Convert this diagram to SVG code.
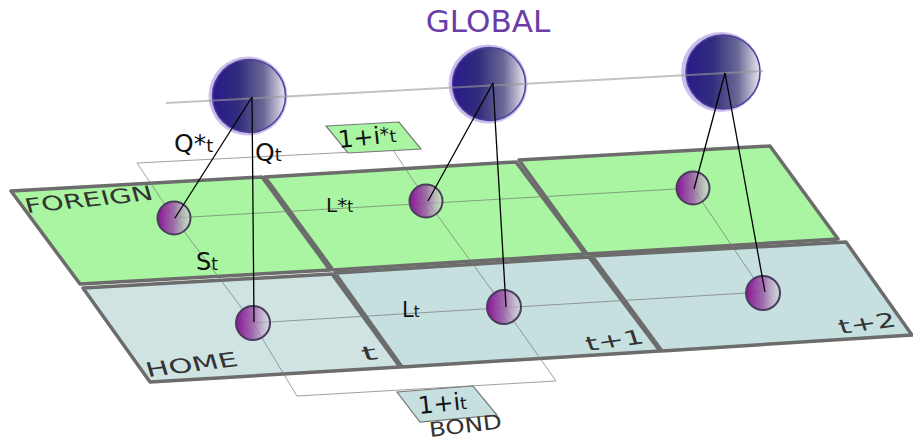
<svg xmlns="http://www.w3.org/2000/svg" width="913" height="443" viewBox="0 0 913 443">
<style>
.fp{fill:#a9f5a1;stroke:#6c6c6c;stroke-width:3.5;stroke-linejoin:round}
.hp{fill:#c6dfdf;stroke:#6c6c6c;stroke-width:3.5;stroke-linejoin:round}
.grid{fill:none;stroke:#777;stroke-width:1;stroke-opacity:0.7}
.conn{stroke:#000;stroke-width:1.3;fill:none}
.sph{fill:url(#gs);stroke:#4e3e9e;stroke-width:1.5}
.halo{fill:#8a70d0;opacity:0.45}
.ball{fill:url(#gb);stroke:#4a3c5c;stroke-width:2}
.lbl{font-family:"DejaVu Sans",sans-serif;fill:#111}
.pl{font-family:"DejaVu Sans",sans-serif;fill:#333;font-size:20px}
.tag{stroke:#777;stroke-width:1.2}
</style>
<defs>
<linearGradient id="gs" x1="0" y1="0" x2="1" y2="0">
<stop offset="0" stop-color="#2a1a8c"/>
<stop offset="0.35" stop-color="#302c7c"/>
<stop offset="0.7" stop-color="#6a6896"/>
<stop offset="1" stop-color="#e9e8f1"/>
</linearGradient>
<linearGradient id="gb" x1="0" y1="0" x2="1" y2="0">
<stop offset="0" stop-color="#8a1496"/>
<stop offset="0.5" stop-color="#9a58a6" stop-opacity="0.85"/>
<stop offset="1" stop-color="#d6d6d6" stop-opacity="0.55"/>
</linearGradient>
</defs>

<text x="488" y="32" text-anchor="middle" font-family="DejaVu Sans, sans-serif" font-size="31" fill="#6a3ea6">GLOBAL</text>

<g id="foreign-t"><polygon class="fp" points="11,191 262,177 330,270 80,284"/></g>
<g id="foreign-t1"><polygon class="fp" points="265,177 516,162 585,254 333,270"/></g>
<g id="foreign-t2"><polygon class="fp" points="519,160 770,146 838,239 587,254"/></g>
<g id="home-t"><polygon class="hp" points="83,288 332,274 400,367 150,382" style="fill:#cfe3e3"/></g>
<g id="home-t1"><polygon class="hp" points="335,273 589,257 660,351 402,367"/></g>
<g id="home-t2"><polygon class="hp" points="592,256 846,242 912,335 662,351"/></g>

<g id="grid">
<polyline class="grid" points="137,163 393,150"/>
<polyline class="grid" points="137,163 174,218 253,323 297,396 556,381 504,307 427,201 393,150"/>
<polyline class="grid" points="693,188 763,292"/>
<polyline class="grid" points="174,218 693,188"/>
<polyline class="grid" points="253,323 763,292"/>
</g>

<g id="global-t"><circle class="halo" cx="248" cy="96" r="39.5"/><circle class="sph" cx="249" cy="96" r="36.5"/></g>
<g id="global-t1"><circle class="halo" cx="488" cy="84" r="39.5"/><circle class="sph" cx="489" cy="84" r="36.5"/></g>
<g id="global-t2"><circle class="halo" cx="721" cy="72" r="40"/><circle class="sph" cx="723" cy="72" r="37"/></g>
<line x1="166" y1="103" x2="763" y2="71" stroke="#999" stroke-width="2" stroke-opacity="0.6"/>

<g id="foreign-ball-t"><circle class="ball" cx="174" cy="218" r="16.5"/></g>
<g id="foreign-ball-t1"><circle class="ball" cx="426" cy="201" r="16.5"/></g>
<g id="foreign-ball-t2"><circle class="ball" cx="693" cy="188" r="16.5"/></g>
<g id="home-ball-t"><circle class="ball" cx="253" cy="323" r="17"/></g>
<g id="home-ball-t1"><circle class="ball" cx="504" cy="307" r="17"/></g>
<g id="home-ball-t2"><circle class="ball" cx="763" cy="293" r="17"/></g>

<g id="connectors">
<line class="conn" x1="252" y1="97" x2="175" y2="218"/>
<line class="conn" x1="252" y1="97" x2="254" y2="322"/>
<line class="conn" x1="493" y1="83" x2="428" y2="201"/>
<line class="conn" x1="493" y1="83" x2="506" y2="307"/>
<line class="conn" x1="725" y1="73" x2="694" y2="189"/>
<line class="conn" x1="725" y1="73" x2="765" y2="292"/>
</g>

<g id="foreign-bond">
<polygon class="tag" fill="#a9f5a1" points="326,126 399,122 421,149 348,153"/>
<text class="lbl" transform="translate(339,148) rotate(-6)" font-size="24">1+i<tspan font-size="19" dy="-2">*</tspan><tspan font-size="17" dy="2">t</tspan></text>
</g>
<g id="home-bond">
<polygon class="tag" fill="#c6dfdf" points="397,392 473,386 497,415 420,422"/>
<text class="lbl" transform="translate(419,414) rotate(-6)" font-size="24">1+i<tspan font-size="17">t</tspan></text>
<text class="pl" transform="translate(430,437) rotate(-7)" font-size="17" textLength="73" lengthAdjust="spacingAndGlyphs">BOND</text>
</g>

<g id="labels">
<text class="lbl" x="174" y="152" font-size="25">Q*<tspan font-size="18">t</tspan></text>
<text class="lbl" x="255" y="161" font-size="25">Q<tspan font-size="18">t</tspan></text>
<text class="lbl" x="326" y="212" font-size="20">L*<tspan font-size="15">t</tspan></text>
<text class="lbl" x="196" y="270" font-size="24">S<tspan font-size="17">t</tspan></text>
<text class="lbl" x="402" y="317" font-size="21">L<tspan font-size="15">t</tspan></text>
<text class="pl" transform="translate(27,213) rotate(-6) skewX(10)" textLength="128" lengthAdjust="spacingAndGlyphs">FOREIGN</text>
<text class="pl" transform="translate(148,377) rotate(-7) skewX(10)" textLength="92" lengthAdjust="spacingAndGlyphs">HOME</text>
<text class="pl" transform="translate(364,361) rotate(-8) skewX(10)" textLength="15" lengthAdjust="spacingAndGlyphs">t</text>
<text class="pl" transform="translate(588,351) rotate(-8) skewX(10)" textLength="58" lengthAdjust="spacingAndGlyphs">t+1</text>
<text class="pl" transform="translate(841,334) rotate(-8) skewX(10)" textLength="57" lengthAdjust="spacingAndGlyphs">t+2</text>
</g>
</svg>
